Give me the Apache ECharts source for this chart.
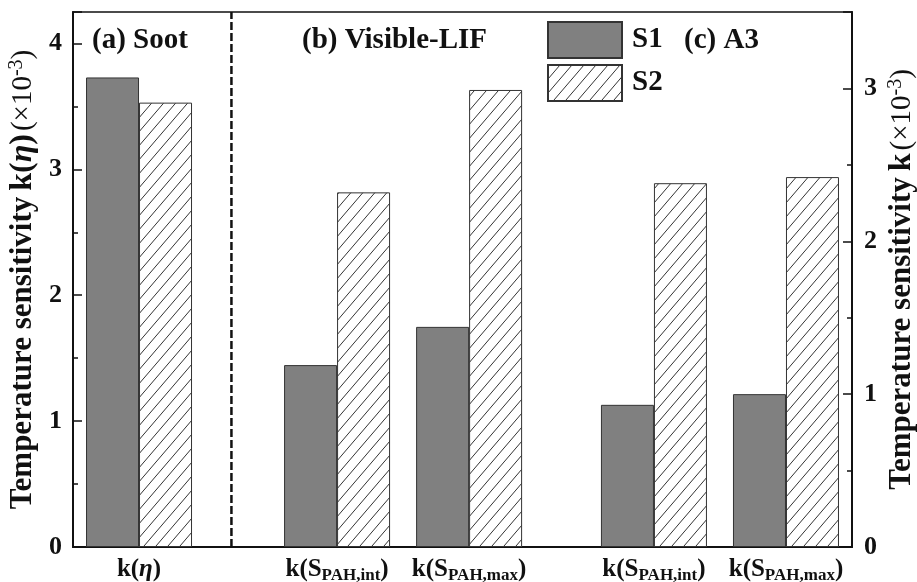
<!DOCTYPE html>
<html><head><meta charset="utf-8">
<script src="https://cdn.jsdelivr.net/npm/echarts@6/dist/echarts.min.js"></script>
<style>html,body{margin:0;padding:0;background:#fff}#c{width:917px;height:582px}</style>
</head><body><div id="c"></div>
<script>
// ---- data ----
const categories = ['k(η)', 'k(S_PAH,int)', 'k(S_PAH,max)', 'k(S_PAH,int)', 'k(S_PAH,max)'];
const groupPos = [1, 2.5, 3.5, 4.9, 5.9];           // x positions of the groups on the value axis
const sootS1 = [3.73];                              // left axis, k(eta)
const sootS2 = [3.53];
const pahS1 = [1.19, 1.44, 0.93, 1.00];             // right axis
const pahS2 = [2.32, 2.99, 2.38, 2.42];
const seriesNames = ['S1', 'S2'];
const panelTitles = ['(a) Soot', '(b) Visible-LIF', '(c) A3'];
const dividerX = 1.7;
const leftMax = 4.25;
const rightMax = 3.5;

const FONT = '"Liberation Serif","Times New Roman",serif';

function hatch() {
  const w = 12, h = 14;
  const c = document.createElement('canvas'); c.width = w; c.height = h;
  const g = c.getContext('2d');
  g.fillStyle = '#fff'; g.fillRect(0, 0, w, h);
  g.strokeStyle = '#333'; g.lineWidth = 1;
  g.beginPath();
  g.moveTo(-w, 2 * h); g.lineTo(2 * w, -h);
  g.moveTo(-2 * w, 2 * h); g.lineTo(w, -h);
  g.moveTo(0, 2 * h); g.lineTo(3 * w, -h);
  g.stroke();
  return c;
}
const hatchPattern = { image: hatch(), repeat: 'repeat' };

function labelRich(cat) {
  if (cat.indexOf('_') >= 0) {
    const m = cat.match(/^(.*)_(.*)\)$/);
    return '{m|' + m[1] + '}{sub|' + m[2] + '}{m|)}';
  }
  return cat.replace('η', '{mi|η}');
}

const chart = echarts.init(document.getElementById('c'), null, { renderer: 'canvas' });

const s1Style = { color: '#808080', borderColor: '#333', borderWidth: 1 };
const s2Style = { color: hatchPattern, borderColor: '#333', borderWidth: 1 };

const xCommon = { type: 'value', min: 0.5, max: 6.4, splitLine: { show: false } };

const titleRich = {
  t: { fontFamily: FONT, fontWeight: 'bold', fontSize: 31, color: '#111' },
  k: { fontFamily: FONT, fontWeight: 'bold', fontSize: 32, color: '#111' },
  ki: { fontFamily: FONT, fontWeight: 'bold', fontStyle: 'italic', fontSize: 32, color: '#111' },
  s: { fontFamily: FONT, fontSize: 29, color: '#111' },
  sup: { fontFamily: FONT, fontSize: 20, lineHeight: 16, verticalAlign: 'top', color: '#111' }
};

const option = {
  animation: false,
  backgroundColor: '#fff',
  textStyle: { fontFamily: FONT },
  grid: { left: 73, right: 65, top: 12, bottom: 35, show: true, borderColor: '#111', borderWidth: 1.5,
    containLabel: false, outerBoundsMode: 'none' },
  title: panelTitles.map((t, i) => ({
    text: t, top: 26, left: [92, 302, 684][i], padding: 0,
    textStyle: { fontFamily: FONT, fontWeight: 'bold', fontSize: 29, color: '#111' }
  })),
  legend: {
    data: seriesNames, orient: 'vertical', left: 547, top: 21, padding: 0,
    itemWidth: 74, itemHeight: 36, itemGap: 5, icon: 'rect',
    textStyle: { fontFamily: FONT, fontWeight: 'bold', fontSize: 29, color: '#111', padding: [0, 0, 0, 5] }
  },
  xAxis: [
    Object.assign({}, xCommon, {
      position: 'bottom',
      axisLine: { show: true, onZero: false, lineStyle: { color: '#111', width: 2 } },
      axisTick: { show: false },
      axisLabel: {
        customValues: groupPos, margin: 9, color: '#111', fontFamily: FONT, fontWeight: 'bold', fontSize: 25, lineHeight: 28,
        formatter: function (v) {
          const i = groupPos.findIndex(p => Math.abs(p - v) < 1e-6);
          return i >= 0 ? labelRich(categories[i]) : '';
        },
        rich: {
          m: { fontFamily: FONT, fontWeight: 'bold', fontSize: 25, color: '#111' },
          mi: { fontFamily: FONT, fontWeight: 'bold', fontStyle: 'italic', fontSize: 25, color: '#111' },
          sub: { fontFamily: FONT, fontWeight: 'bold', fontSize: 17, lineHeight: 16, verticalAlign: 'bottom', color: '#111' }
        }
      }
    }),
    Object.assign({}, xCommon, { show: false })
  ],
  yAxis: [
    {
      type: 'value', position: 'left', min: 0, max: leftMax, interval: 1,
      axisLine: { show: true, lineStyle: { color: '#111', width: 2 } },
      axisTick: { show: true, inside: true, length: 9, lineStyle: { color: '#111', width: 1.5 } },
      axisLabel: { margin: 11, color: '#111', fontFamily: FONT, fontWeight: 'bold', fontSize: 26,
        formatter: v => Number.isInteger(v) ? String(v) : '' },
      splitLine: { show: false },
      name: '{t|Temperature sensitivity}  {k|k(}{ki|η}{k|)} {s|(×10}{sup|-3}{s|)}',
      nameLocation: 'middle', nameRotate: 90, nameGap: 34, nameMoveOverlap: false,
      nameTextStyle: { rich: titleRich }
    },
    {
      type: 'value', position: 'right', min: 0, max: rightMax, interval: 1,
      axisLine: { show: true, lineStyle: { color: '#111', width: 2 } },
      axisTick: { show: true, inside: true, length: 9, lineStyle: { color: '#111', width: 1.5 } },
      axisLabel: { margin: 12, color: '#111', fontFamily: FONT, fontWeight: 'bold', fontSize: 26,
        formatter: v => Number.isInteger(v) ? String(v) : '' },
      splitLine: { show: false },
      name: '{t|Temperature sensitivity}  {k|k} {s|(×10}{sup|-3}{s|)}',
      nameLocation: 'middle', nameRotate: 90, nameGap: 34, nameMoveOverlap: false,
      nameTextStyle: { rich: titleRich }
    },
    {
      type: 'value', position: 'left', min: 0, max: leftMax, interval: 0.5,
      axisLine: { show: false }, axisLabel: { show: false }, splitLine: { show: false },
      axisTick: { show: true, inside: true, length: 5, lineStyle: { color: '#111', width: 1.5 } }
    },
    {
      type: 'value', position: 'right', min: 0, max: rightMax, interval: 0.5,
      axisLine: { show: false }, axisLabel: { show: false }, splitLine: { show: false },
      axisTick: { show: true, inside: true, length: 5, lineStyle: { color: '#111', width: 1.5 } }
    }
  ],
  series: [
    {
      name: seriesNames[0], type: 'bar', xAxisIndex: 0, yAxisIndex: 0, barWidth: 53, barGap: '0%',
      data: sootS1.map((v, i) => [groupPos[i], v]), itemStyle: s1Style
    },
    {
      name: seriesNames[1], type: 'bar', xAxisIndex: 0, yAxisIndex: 0, barWidth: 53, barGap: '0%',
      data: sootS2.map((v, i) => [groupPos[i], v]), itemStyle: s2Style
    },
    {
      name: seriesNames[0], type: 'bar', xAxisIndex: 1, yAxisIndex: 1, barWidth: 53, barGap: '0%',
      data: pahS1.map((v, i) => [groupPos[i + 1], v]), itemStyle: s1Style
    },
    {
      name: seriesNames[1], type: 'bar', xAxisIndex: 1, yAxisIndex: 1, barWidth: 53, barGap: '0%',
      data: pahS2.map((v, i) => [groupPos[i + 1], v]), itemStyle: s2Style
    },
    {
      name: 'divider', type: 'line', xAxisIndex: 0, yAxisIndex: 0, silent: true,
      symbol: 'none', lineStyle: { type: [8, 3], color: '#111', width: 2.5 },
      data: [[dividerX, 0], [dividerX, leftMax]], z: 1
    }
  ]
};
chart.setOption(option);
</script>
</body></html>
